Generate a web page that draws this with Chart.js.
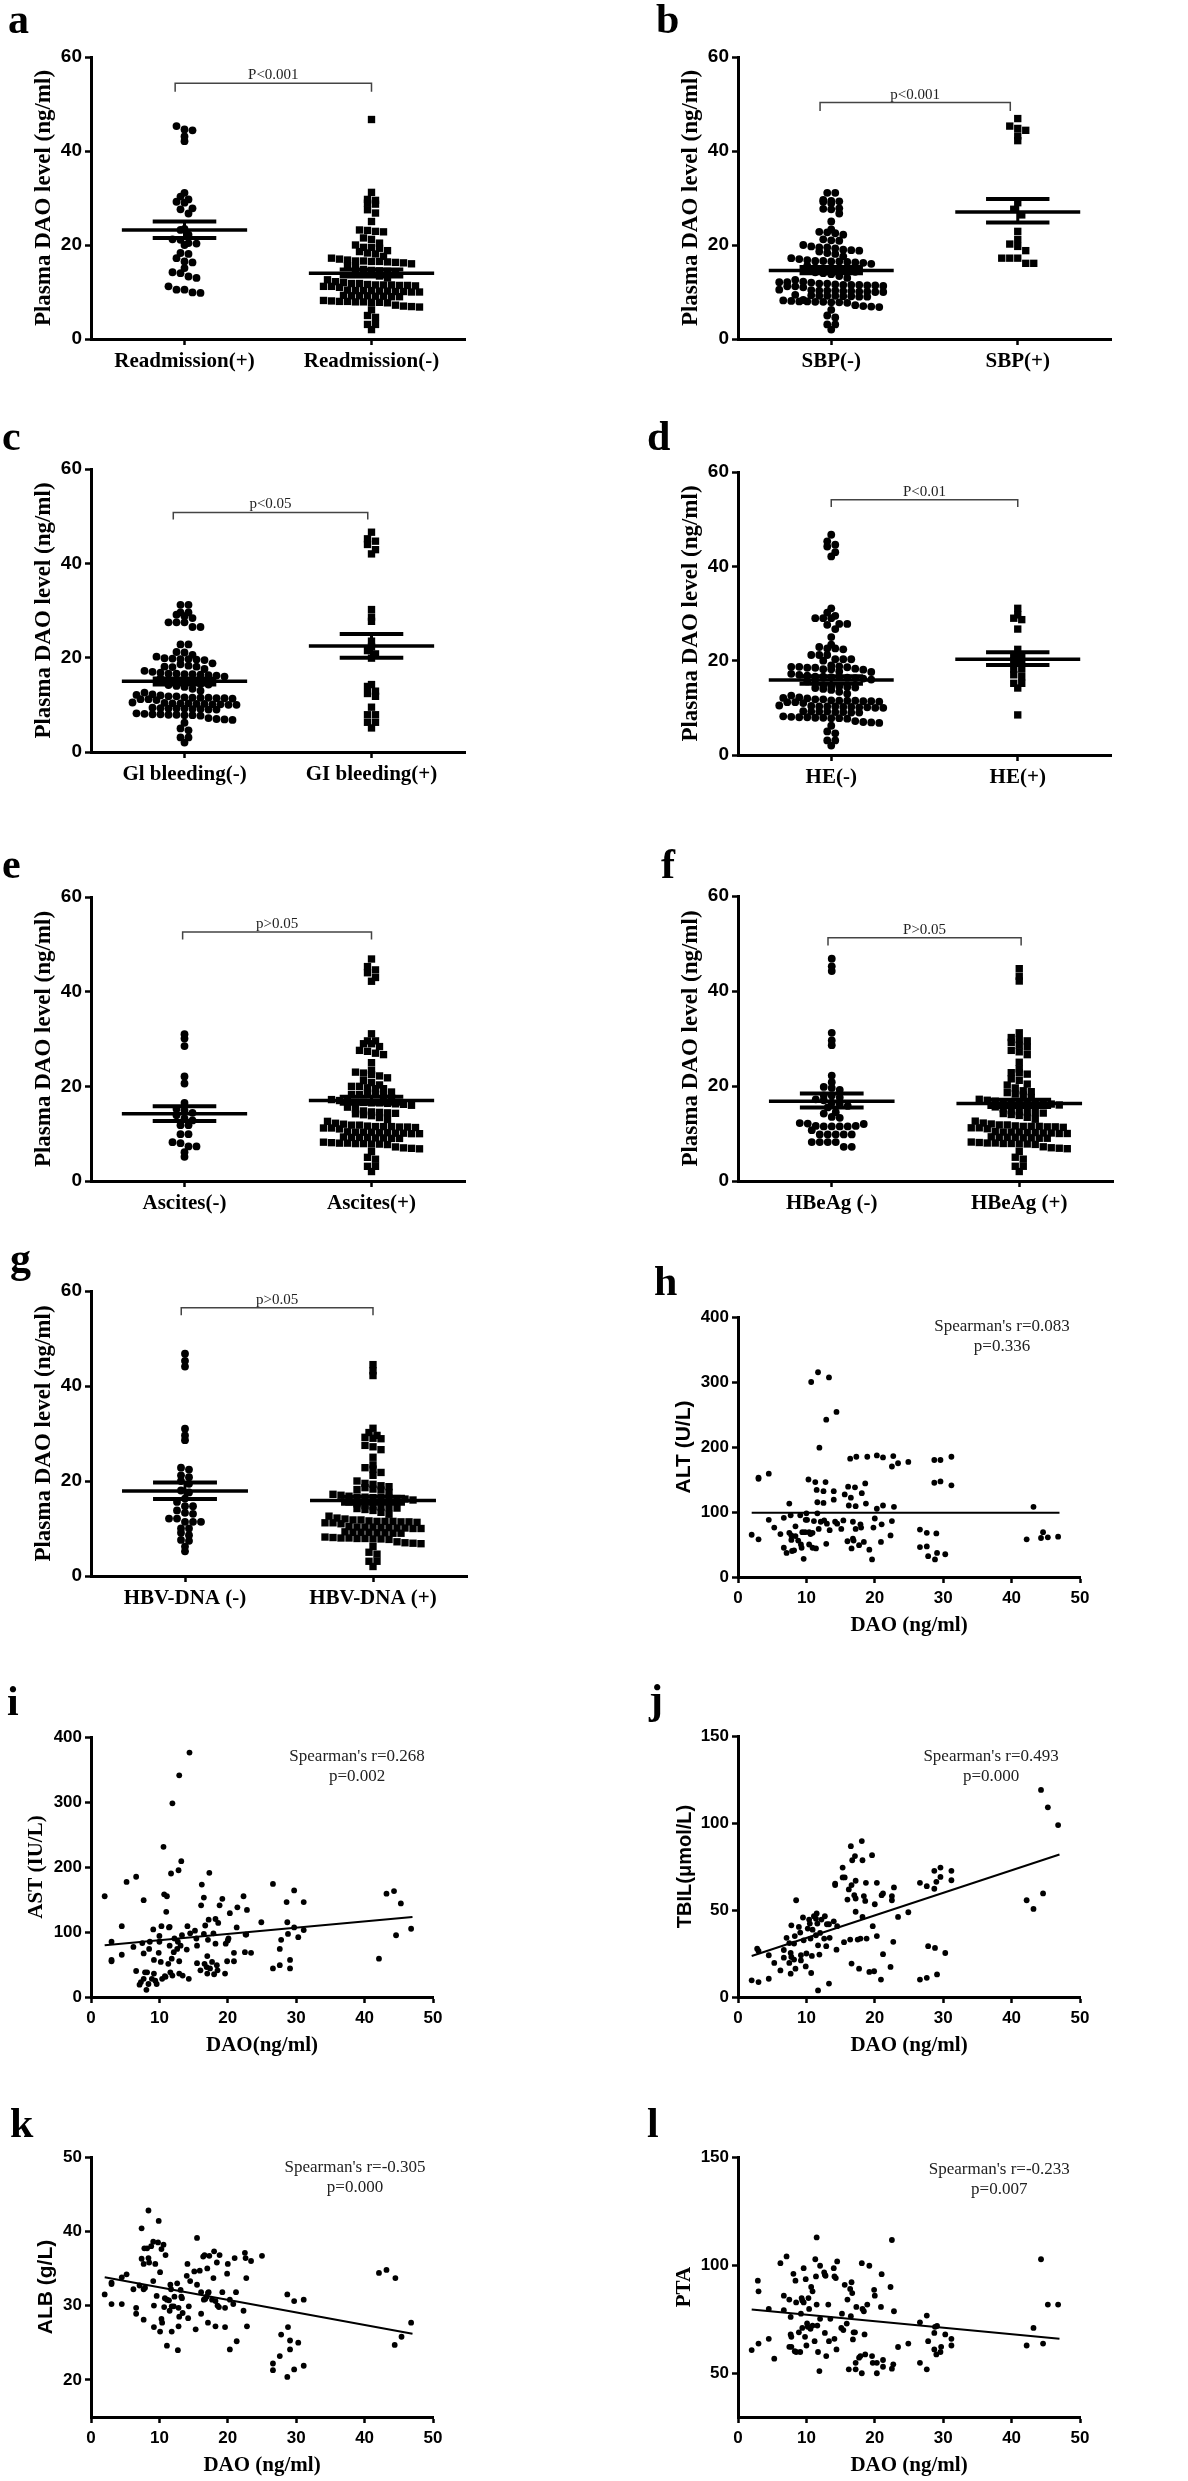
<!DOCTYPE html>
<html>
<head>
<meta charset="utf-8">
<script src="https://cdn.jsdelivr.net/npm/chart.js@4.4.0/dist/chart.umd.min.js"></script>
<style>
body { margin: 0; background: #fff; width: 1188px; height: 2481px; position: relative; overflow: hidden; }
canvas { position: absolute; }
.tag { position: absolute; font: bold 42px "Liberation Serif"; line-height: 42px; color: #000; }
</style>
</head>
<body>
<script>
// ---- group panels (a-g): DAO values per group ----
var bulkDao = [18.8, 18.6, 18.3, 18.1, 17.6, 17.2, 17.0, 16.8, 16.6, 16.6, 16.5, 16.5, 16.4, 16.3, 16.2, 16.0,
  15.6, 15.2, 14.8, 14.6, 14.5, 14.4, 14.3, 14.2, 14.0, 13.8, 13.4, 13.0, 12.6, 12.2, 12.0, 11.8, 11.8, 11.6,
  11.5, 11.5, 11.5, 11.4, 11.4, 11.3, 11.2, 11.2, 11.0, 10.4, 10.3, 10.3, 10.3, 10.2, 10.2, 10.1, 10.1, 10.0,
  10.0, 9.3, 9.2, 9.2, 9.2, 9.1, 9.1, 9.0, 9.0, 8.2, 8.1, 8.0, 8.0, 7.9, 7.9, 7.8, 7.8, 7.7, 7.2, 7.0, 6.9,
  6.8, 6.2, 5.0, 4.6, 3.1, 3.1, 2.0];

var readmissionPos = [45.3, 44.6, 44.4, 43.1, 42.1, 31.1, 30.3, 29.7, 29.2, 29.0, 27.8, 27.6, 26.7, 23.4, 23.2,
  22.2, 21.2, 21.1, 20.4, 20.3, 20.0, 18.3, 18.1, 17.2, 16.5, 16.3, 15.1, 14.2, 14.0, 13.3, 13.0, 11.2, 10.5,
  10.5, 9.9, 9.8];
var readmissionNegHigh = [46.7, 31.2, 29.7, 29.5, 28.9, 28.7, 27.5, 26.8, 25.0, 23.2, 23.1, 22.9, 22.8, 21.5,
  21.2, 20.4, 20.0, 19.5, 19.5, 19.3];

var sbpNegHigh = [31.1, 31.1, 29.6, 29.4, 29.3, 29.2, 28.9, 27.8, 27.7, 27.6, 26.7, 25.0, 23.3, 22.8, 22.7, 22.5,
  22.2, 21.2, 21.0, 20.9, 20.0, 19.7, 19.5, 19.5, 19.3, 19.0, 18.9, 12.1, 12.1, 10.5, 9.4, 8.3];
var sbpPos = [46.9, 45.3, 44.8, 44.4, 43.2, 42.2, 29.0, 27.6, 26.4, 22.9, 21.2, 20.2, 19.7, 18.8, 17.2, 17.2,
  17.2, 16.1, 16.1];

var giNegHigh = [31.2, 31.2, 29.6, 29.6, 29.1, 28.8, 28.4, 27.5, 27.5, 27.5, 26.5, 26.5, 22.8, 22.8, 21.2, 21.1,
  20.6, 20.2, 19.9, 19.8, 19.7, 19.7, 19.6, 19.5, 18.1, 18.0, 12.1, 10.5, 9.4];
var giPos = [46.6, 45.2, 44.7, 44.0, 42.9, 42.0, 30.2, 28.6, 27.7, 23.5, 22.3, 21.5, 20.8, 19.9, 14.3, 13.9,
  12.9, 12.4, 11.8, 9.5, 7.9, 7.9, 6.3, 6.3, 5.1];

var heNegHigh = [46.7, 45.3, 44.6, 44.2, 43.0, 42.1, 31.1, 30.2, 29.5, 29.0, 29.0, 29.0, 27.8, 27.8, 27.6, 26.7,
  25.0, 23.4, 22.9, 22.6, 22.6, 22.4, 21.2, 21.2, 21.2, 20.3, 20.3, 20.3, 20.0, 19.0, 18.7, 18.7, 18.5, 18.5,
  18.2, 18.2, 17.7, 12.1, 10.5];
var hePos = [31.1, 29.7, 29.0, 28.7, 26.7, 22.4, 21.2, 21.2, 20.0, 19.8, 18.2, 18.2, 17.0, 16.6, 15.2, 15.2,
  14.2, 8.5];

var ascitesNeg = [31.0, 30.1, 28.5, 22.1, 20.6, 16.5, 15.2, 14.9, 14.4, 13.9, 13.2, 12.8, 11.8, 11.8, 9.9, 9.9,
  8.2, 8.0, 7.3, 7.3, 6.1, 5.1];
var ascitesPosHigh = [46.9, 45.3, 44.6, 44.0, 43.0, 42.2, 31.1, 29.6, 29.6, 29.0, 29.0, 28.4, 27.6, 27.4, 27.0,
  26.7, 25.0, 23.4, 23.0, 22.8, 22.5, 22.2, 21.8, 21.2, 20.8, 20.3, 20.0, 20.0, 19.7, 19.5, 19.5, 18.3, 18.3];

var hbeagNeg = [46.8, 45.2, 44.2, 31.2, 29.6, 28.6, 22.2, 20.8, 19.8, 19.6, 19.2, 18.0, 18.0, 17.6, 17.2, 17.0,
  16.5, 16.2, 15.8, 15.5, 14.5, 14.2, 13.5, 13.3, 12.2, 12.1, 11.6, 11.5, 11.5, 11.5, 11.5, 11.6, 12.0, 10.7,
  9.8, 9.8, 9.8, 9.8, 9.8, 8.2, 8.2, 8.2, 8.2, 7.2, 7.2];
var hbeagPosHigh = [44.7, 43.1, 42.1, 31.2, 30.2, 29.8, 29.5, 29.2, 28.6, 28.2, 27.5, 27.2, 26.6, 25.0, 23.6,
  22.8, 22.8, 22.5, 21.5, 21.2, 20.4, 20.2, 19.6, 19.0];

var hbvNeg = [46.8, 45.3, 44.1, 31.0, 29.6, 28.6, 22.8, 22.4, 21.2, 20.8, 20.0, 19.4, 18.0, 17.6, 16.3, 15.6,
  14.7, 14.7, 13.8, 13.3, 13.1, 12.1, 12.1, 11.4, 11.4, 11.4, 10.0, 10.0, 9.1, 8.6, 7.6, 7.4, 6.2, 5.2];
var hbvPosHigh = [44.5, 43.2, 42.2, 31.1, 30.2, 29.6, 29.2, 29.0, 28.9, 27.5, 27.2, 26.6, 25.0, 23.4, 22.8, 22.5,
  21.8, 21.2, 20.0, 19.5, 19.3, 19.0, 18.2];

// mean and SEM: [left group, right group]
var meanA = [23.2, 14.0], semLowA = [21.5, 13.3], semHighA = [25.0, 14.8];
var meanB = [14.6, 27.0], semLowB = [14.0, 24.8], semHighB = [15.3, 29.8];
var meanC = [15.0, 22.5], semLowC = [14.3, 20.0], semHighC = [15.6, 25.0];
var meanD = [15.9, 20.3], semLowD = [15.1, 19.1], semHighD = [16.7, 21.8];
var meanE = [14.2, 17.0], semLowE = [12.7, 16.3], semHighE = [15.8, 17.8];
var meanF = [16.8, 16.3], semLowF = [15.5, 15.6], semHighF = [18.4, 17.1];
var meanG = [17.9, 15.9], semLowG = [16.2, 15.2], semHighG = [19.7, 16.7];

// ---- correlation panels (h-l): [DAO, value] ----
var altPoints = [[2.0,65],[3.0,58],[3.0,151],[3.0,153],[4.5,159],[4.5,88],[5.3,76],[6.2,66],[6.7,91],[6.7,45],
  [7.1,37],[7.5,113],[7.5,68],[7.7,95],[7.8,57],[7.8,64],[7.9,40],[8.2,41],[8.4,63],[8.4,78],[8.8,56],[9.1,95],
  [9.2,50],[9.3,45],[9.4,69],[9.6,28],[9.8,69],[9.9,88],[10.1,88],[10.0,98],[10.3,150],[10.4,69],[10.6,66],
  [10.9,68],[10.4,50],[10.7,300],[10.9,45],[11.1,86],[11.3,146],[11.4,44],[11.5,134],[11.6,115],[11.6,98],
  [11.7,315],[11.8,74],[11.9,199],[12.1,85],[12.5,114],[12.5,132],[12.6,87],[12.8,146],[12.9,242],[12.9,51],
  [13.0,82],[13.3,307],[13.4,72],[14.0,132],[14.0,119],[14.2,85],[14.4,254],[14.5,82],[15.1,74],[15.4,87],
  [15.6,127],[16.0,55],[16.1,139],[16.2,110],[16.4,182],[16.5,122],[16.6,44],[16.8,85],[16.8,59],[16.9,56],
  [17.1,138],[17.2,109],[17.2,74],[17.3,185],[17.7,49],[17.9,81],[18.0,76],[18.1,129],[18.4,54],[18.6,144],
  [18.7,113],[18.9,185],[19.2,42],[19.6,27],[19.8,76],[20.0,90],[20.3,187],[20.3,105],[20.9,54],[21.0,81],
  [21.2,110],[21.2,184],[22.3,64],[22.5,86],[22.5,170],[22.7,186],[22.8,108],[23.4,175],[24.9,177],[26.6,73],
  [26.6,46],[27.6,68],[27.6,47],[27.8,32],[28.7,180],[28.7,145],[28.8,27],[29.0,67],[29.1,37],[29.6,180],
  [29.6,147],[30.3,35],[31.2,185],[31.2,141],[42.2,58],[43.2,108],[44.3,60],[44.6,69],[45.3,61],[46.8,62]];

var astPoints = [[2.0,155],[3.0,85],[3.0,57],[3.0,55],[4.5,109],[4.5,65],[5.2,177],[6.2,77],[6.6,185],[6.6,40],
  [7.1,19],[7.3,23],[7.5,83],[7.7,149],[7.7,67],[7.7,28],[7.9,38],[8.1,11],[8.2,38],[8.4,20],[8.5,74],[8.6,85],
  [8.9,28],[9.1,104],[9.2,57],[9.2,36],[9.4,25],[9.6,20],[9.9,68],[10.0,94],[10.0,85],[10.2,54],[10.3,109],
  [10.4,28],[10.6,231],[10.7,158],[10.8,32],[10.9,31],[11.0,131],[11.1,155],[11.3,51],[11.4,107],[11.5,108],
  [11.5,79],[11.6,38],[11.7,190],[11.8,59],[11.9,298],[11.9,33],[12.1,69],[12.2,90],[12.6,74],[12.7,85],
  [12.8,195],[12.9,55],[12.9,341],[12.9,36],[13.1,79],[13.2,209],[13.3,95],[13.4,33],[14.0,73],[14.1,109],
  [14.3,28],[14.4,376],[14.5,98],[15.2,102],[15.4,90],[15.5,79],[15.5,52],[16.0,41],[16.1,141],[16.2,173],
  [16.5,153],[16.5,97],[16.6,51],[16.7,110],[16.9,46],[17.0,36],[17.0,63],[17.1,88],[17.2,119],[17.3,191],
  [17.4,44],[17.7,54],[17.9,98],[18.0,35],[18.2,82],[18.2,120],[18.4,49],[18.5,41],[18.6,114],[18.8,141],
  [19.2,151],[19.6,36],[19.7,82],[19.9,55],[20.0,87],[20.1,90],[20.3,129],[20.9,68],[20.9,55],[21.3,107],
  [21.4,138],[22.3,155],[22.5,69],[22.6,96],[22.7,96],[22.8,134],[23.4,68],[24.9,115],[26.6,44],[26.6,174],
  [27.6,74],[27.6,49],[27.8,88],[28.6,146],[28.7,115],[28.8,97],[29.1,57],[29.1,44],[29.7,164],[29.7,107],
  [30.3,92],[31.1,103],[31.1,146],[42.1,59],[43.2,159],[44.3,163],[44.6,95],[45.3,144],[46.8,105]];

var tbilPoints = [[2.0,9.6],[3.0,8.6],[2.8,27.8],[3.0,26.5],[4.5,24],[4.5,10.5],[5.3,19.6],[6.2,15.3],[6.7,27],
  [6.7,22.6],[7.1,34],[7.5,19.6],[7.5,31],[7.7,25.3],[7.8,41.2],[7.7,13.4],[7.8,23],[8.2,30.7],[8.3,35],
  [8.5,55.6],[8.4,16.3],[8.2,21.5],[8.9,40.3],[9.1,37],[9.2,24],[9.2,21],[9.5,45.7],[9.6,32.6],[9.9,17.6],
  [10.0,25],[10.2,39.3],[10.4,44.5],[10.5,42.2],[10.6,33.6],[10.7,13.8],[10.8,23.6],[10.9,38.7],[11.1,46.4],
  [11.4,45],[11.4,35.5],[11.5,48],[11.6,42.2],[11.7,3.8],[11.7,29.7],[11.9,24.4],[12.0,36.8],[12.2,44.5],
  [12.6,33.6],[12.7,46.4],[12.9,29.2],[13.0,41.8],[13.3,7.7],[13.4,34],[13.3,41.8],[14.0,43.5],[14.2,65.2],
  [14.2,64.3],[14.4,27.2],[14.5,40.7],[15.3,74.4],[15.3,68.7],[15.6,68.7],[15.5,31.5],[16.0,56],[16.2,61.8],
  [16.4,33],[16.5,86.7],[16.6,19.2],[16.6,64.3],[16.7,78.6],[17.0,58.5],[17.1,81],[17.2,66.8],[17.2,56.6],
  [17.2,49],[17.5,33],[17.7,16.3],[17.9,33.6],[18.1,89.6],[18.2,78.6],[18.2,46],[18.4,58],[18.6,55.2],
  [18.7,65.6],[18.8,33.6],[19.2,14.4],[19.6,81.5],[19.7,40.7],[19.9,14.8],[20.0,53.3],[20.3,65.6],[20.3,35],
  [20.9,10],[21.0,58.5],[21.2,59.5],[21.2,24.6],[22.3,17.3],[22.5,58],[22.5,55.6],[22.8,63],[22.7,31.7],
  [23.4,46],[24.9,48.7],[26.6,65.6],[26.6,10],[27.6,63.7],[27.6,11],[27.8,29.2],[28.7,72.5],[28.7,62.2],
  [28.8,28.2],[29.0,66.2],[29.1,13],[29.6,74.4],[29.6,69],[30.3,25.3],[31.2,72.5],[31.2,67.1],[42.2,55.6],
  [43.2,50.6],[44.3,119],[44.6,59.5],[45.3,109],[46.8,98.8]];

var albPoints = [[2.0,31.5],[3.0,32.9],[3.0,33.1],[3.0,30.2],[4.5,33.8],[4.5,30.2],[5.2,34.2],[6.2,32.2],
  [6.6,29.7],[6.6,28.9],[7.1,32.7],[7.4,40.4],[7.4,36.3],[7.7,35.6],[7.7,28.1],[7.8,37.7],[8.2,37.7],[7.7,32.2],
  [7.9,32.4],[8.4,42.8],[8.4,36.4],[8.5,35.8],[8.8,38.0],[9.1,38.6],[9.1,33.3],[9.2,30.0],[9.2,27.1],[9.4,35.6],
  [9.6,31.3],[9.8,38.5],[9.9,41.4],[10.1,34.5],[10.1,26.5],[10.3,37.6],[10.3,28.2],[10.4,27.7],[10.6,38.2],
  [10.7,29.8],[10.8,31.0],[10.9,36.8],[11.1,24.6],[11.1,30.8],[11.4,30.7],[11.5,29.3],[11.6,32.8],[11.7,32.2],
  [11.8,29.9],[11.8,26.5],[12.1,29.9],[12.2,31.2],[12.6,33.0],[12.7,24.0],[12.8,29.7],[12.8,27.2],[12.9,28.5],
  [13.1,32.1],[13.2,31.2],[13.3,31.0],[13.4,29.0],[14.0,34.0],[14.1,35.6],[14.2,28.3],[14.3,29.9],[14.5,33.3],
  [15.1,34.6],[15.3,26.8],[15.5,39.1],[15.5,32.8],[15.9,34.7],[16.1,31.8],[16.1,28.9],[16.4,36.6],[16.5,30.8],
  [16.6,36.8],[16.7,30.9],[16.9,31.2],[17.0,35.0],[17.1,31.7],[17.1,27.7],[17.2,31.8],[17.3,36.7],[17.7,30.8],
  [17.9,33.7],[18.0,37.3],[18.2,27.2],[18.2,30.6],[18.4,35.8],[18.5,30.0],[18.7,29.8],[18.8,36.8],[19.2,31.8],
  [19.6,29.7],[19.6,27.1],[19.9,34.3],[20.0,35.6],[20.3,30.8],[20.3,24.1],[20.8,30.2],[21.0,36.4],[21.2,31.8],
  [21.3,25.2],[22.3,29.3],[22.5,37.1],[22.6,36.4],[22.7,33.7],[22.8,27.2],[23.4,36.0],[25.0,36.7],[26.6,22.2],
  [26.6,21.3],[27.6,23.2],[27.8,26.1],[28.7,31.5],[28.8,27.1],[28.7,20.4],[29.1,25.3],[29.1,24.1],[29.7,30.6],
  [29.7,21.4],[30.3,25.0],[31.1,30.8],[31.1,21.9],[42.1,34.4],[43.2,34.8],[44.5,33.7],[44.4,24.7],[45.4,25.8],
  [46.8,27.7]];

var ptaPoints = [[2.0,60.9],[2.9,92.9],[3.0,88.0],[3.0,63.9],[4.5,79.9],[4.5,66.1],[5.3,56.9],[6.2,101.0],
  [6.7,86.0],[6.7,79.3],[7.1,104.1],[7.5,84.2],[7.5,62.4],[7.7,76.2],[7.7,68.1],[7.8,67.0],[7.8,62.4],[8.1,96.1],
  [8.3,60.4],[8.5,60.0],[8.4,92.9],[8.5,82.9],[8.9,69.1],[9.1,60.0],[9.2,77.7],[9.3,84.9],[9.4,83.8],[9.4,71.1],
  [9.6,98.7],[9.6,82.9],[9.8,67.0],[9.9,93.6],[10.0,63.0],[10.1,73.2],[10.2,71.6],[10.3,84.9],[10.4,79.9],
  [10.6,70.7],[10.7,90.0],[10.9,88.0],[10.9,72.2],[11.2,65.0],[11.3,102.8],[11.4,94.9],[11.5,112.9],[11.5,81.9],
  [11.6,72.2],[11.7,60.0],[11.9,51.2],[12.0,99.8],[12.0,75.3],[12.6,96.7],[12.8,95.2],[12.7,95.6],[12.7,68.8],
  [12.9,58.1],[13.2,81.9],[13.3,65.0],[13.5,75.3],[14.0,98.7],[14.1,94.9],[14.3,94.1],[14.1,66.1],[14.4,61.2],
  [14.5,101.8],[15.1,71.1],[15.2,77.7],[15.4,70.1],[15.6,91.0],[15.9,73.1],[16.0,84.2],[16.2,52.0],[16.4,89.1],
  [16.5,76.5],[16.6,92.2],[16.7,87.2],[16.8,65.8],[16.9,69.1],[17.1,69.1],[17.2,55.0],[17.2,52.0],[17.3,80.8],
  [17.7,57.4],[17.9,58.1],[18.1,101.0],[18.2,79.9],[18.1,50.2],[18.4,78.8],[18.5,68.1],[18.6,58.9],[18.9,81.9],
  [19.2,99.8],[19.6,58.1],[19.7,55.0],[19.9,88.7],[20.0,86.0],[20.3,55.0],[20.3,50.2],[20.9,80.8],[21.0,95.9],
  [21.2,56.3],[21.2,53.2],[22.3,90.0],[22.5,52.3],[22.5,111.7],[22.7,54.3],[22.8,78.8],[23.4,62.3],[24.9,63.9],
  [26.6,55.0],[26.6,73.7],[27.6,76.8],[27.6,52.0],[27.8,65.0],[28.7,68.8],[28.7,61.2],[28.8,71.6],[29.0,58.9],
  [29.1,72.0],[29.6,60.0],[29.7,62.4],[30.3,68.1],[31.2,66.1],[31.2,63.0],[42.2,63.0],[43.2,71.1],[44.3,102.8],
  [44.6,63.9],[45.3,81.9],[46.8,81.9]];

// fitted lines, end points
var fitAlt = [[2, 99], [47, 99]];
var fitAst = [[2, 79.5], [47, 123]];
var fitTbil = [[2, 23.6], [47, 81.9]];
var fitAlb = [[2, 33.8], [47, 26.2]];
var fitPta = [[2, 79.6], [47, 66.1]];

var SERIF = '"Liberation Serif", "Times New Roman", serif';
var SANS = '"Liberation Sans", Arial, sans-serif';

function tag(letter, left, top) {
  var d = document.createElement('div');
  d.className = 'tag';
  d.textContent = letter;
  d.style.left = left + 'px';
  d.style.top = top + 'px';
  document.body.appendChild(d);
}

function makeCanvas(box) {
  // box = [plotLeft, plotTop, plotRight, plotBottom]
  var c = document.createElement('canvas');
  var left = box[0] - 90, top = box[1] - 40;
  var w = box[2] + 30 - left, h = box[3] + 75 - top;
  c.width = w; c.height = h;
  c.style.left = left + 'px'; c.style.top = top + 'px';
  c.style.width = w + 'px'; c.style.height = h + 'px';
  document.body.appendChild(c);
  return c;
}

// horizontal rows like a dot plot: values close together share a row
function swarm(values, center, unitPx) {
  var bins = {};
  values.forEach(function(v) {
    var k = Math.round(v / 1.5);
    (bins[k] = bins[k] || []).push(v);
  });
  var pts = [];
  Object.keys(bins).forEach(function(k) {
    var row = bins[k];
    row.forEach(function(v, i) {
      pts.push({x: center + (i - (row.length - 1) / 2) * 8 / unitPx, y: v});
    });
  });
  return pts;
}

function seg(x1, y1, x2, y2, w) {
  return {data: [{x: x1, y: y1}, {x: x2, y: y2}], showLine: true, pointRadius: 0,
    borderColor: '#000', borderWidth: w, order: 0};
}

var notePlugin = {
  id: 'note',
  afterDatasetsDraw: function(chart, args, o) {
    var ctx = chart.ctx, xs = chart.scales.x, ys = chart.scales.y;
    ctx.save();
    if (o.bracket) {
      var x1 = xs.getPixelForValue(o.bracket[0]), x2 = xs.getPixelForValue(o.bracket[1]);
      var y = ys.getPixelForValue(o.bracket[2]), yd = ys.getPixelForValue(o.bracket[3]);
      ctx.strokeStyle = '#444'; ctx.lineWidth = 1.5;
      ctx.beginPath();
      ctx.moveTo(x1, yd); ctx.lineTo(x1, y); ctx.lineTo(x2, y); ctx.lineTo(x2, yd);
      ctx.stroke();
      ctx.fillStyle = '#222'; ctx.font = '15px ' + SERIF;
      ctx.textAlign = 'center'; ctx.textBaseline = 'alphabetic';
      ctx.fillText(o.text, (x1 + x2) / 2, y - 4);
    }
    if (o.lines) {
      var cx = xs.getPixelForValue(o.at[0]);
      ctx.fillStyle = '#222'; ctx.font = '17px ' + SERIF;
      ctx.textAlign = 'center'; ctx.textBaseline = 'middle';
      o.lines.forEach(function(t, i) {
        ctx.fillText(t, cx, chart.chartArea.top + o.at[1] + i * 20);
      });
    }
    ctx.restore();
  }
};

function axisStyle() {
  return {
    grid: {drawOnChartArea: false, tickLength: 6, tickColor: '#000', tickWidth: 2.5},
    border: {display: true, color: '#000', width: 3}
  };
}

function groupPanel(p) {
  var cv = makeCanvas(p.box);
  var unitPx = (p.box[2] - p.box[0]) / 2;
  var ds = [
    {data: swarm(p.left, 1, unitPx), pointStyle: 'circle', pointRadius: 3.9, backgroundColor: '#000',
      borderWidth: 0, order: 1},
    {data: swarm(p.right, 2, unitPx), pointStyle: 'rect', pointRadius: 5.2, backgroundColor: '#000',
      borderWidth: 0, order: 1}
  ];
  for (var g = 0; g < 2; g++) {
    var cx = g + 1;
    ds.push(seg(cx - 0.335, p.mean[g], cx + 0.335, p.mean[g], 3.5));
    ds.push(seg(cx - 0.17, p.lo[g], cx + 0.17, p.lo[g], 4));
    ds.push(seg(cx - 0.17, p.hi[g], cx + 0.17, p.hi[g], 4));
    ds.push(seg(cx, p.lo[g], cx, p.hi[g], 3));
  }
  var xa = axisStyle(), ya = axisStyle();
  xa.type = 'linear'; xa.min = 0.5; xa.max = 2.5;
  xa.afterBuildTicks = function(s) { s.ticks = [{value: 1}, {value: 2}]; };
  xa.afterFit = function(s) { s.height = 75; };
  xa.ticks = {color: '#000', padding: 4, maxRotation: 0, minRotation: 0, autoSkip: false,
    font: {family: SERIF, weight: 'bold', size: 21},
    callback: function(v) { return p.labels[Math.round(v) - 1]; }};
  ya.min = 0; ya.max = 60;
  ya.afterFit = function(s) { s.width = 90; };
  ya.ticks = {stepSize: 20, color: '#000', padding: 3, font: {family: SANS, weight: 'bold', size: 19}};
  ya.title = {display: true, text: 'Plasma DAO level (ng/ml)', color: '#000', padding: {top: 29},
    font: {family: SERIF, weight: 'bold', size: 23}};
  new Chart(cv, {
    type: 'scatter',
    data: {datasets: ds},
    options: {
      responsive: false, animation: false,
      layout: {padding: {top: 40, right: 30}},
      plugins: {legend: {display: false}, tooltip: {enabled: false},
        note: {bracket: p.bracket, text: p.ptext}},
      scales: {x: xa, y: ya}
    },
    plugins: [notePlugin]
  });
  tag(p.letter, p.tag[0], p.tag[1]);
}

function corrPanel(p) {
  var cv = makeCanvas(p.box);
  var pts = p.points.map(function(d) { return {x: d[0], y: d[1]}; });
  var ds = [
    {data: pts, pointStyle: 'circle', pointRadius: 2.9, backgroundColor: '#000', borderWidth: 0, order: 1},
    seg(p.fit[0][0], p.fit[0][1], p.fit[1][0], p.fit[1][1], 2)
  ];
  var xa = axisStyle(), ya = axisStyle();
  xa.min = 0; xa.max = 50;
  xa.afterFit = function(s) { s.height = 75; };
  xa.ticks = {stepSize: 10, color: '#000', padding: 5, maxRotation: 0,
    font: {family: SANS, weight: 'bold', size: 17}};
  xa.title = {display: true, text: p.xTitle, color: '#000', padding: {top: 0, bottom: 14},
    font: {family: SERIF, weight: 'bold', size: 21}};
  ya.min = p.yMin; ya.max = p.yMax;
  if (p.yTicks) {
    ya.afterBuildTicks = function(s) { s.ticks = p.yTicks.map(function(v) { return {value: v}; }); };
  }
  ya.afterFit = function(s) { s.width = 90; };
  ya.ticks = {stepSize: p.yStep, color: '#000', padding: 3, font: {family: SANS, weight: 'bold', size: 17}};
  ya.title = {display: true, text: p.yTitle, color: '#000', padding: {top: p.yPad},
    font: {family: p.yFont, weight: 'bold', size: p.ySize}};
  new Chart(cv, {
    type: 'scatter',
    data: {datasets: ds},
    options: {
      responsive: false, animation: false,
      layout: {padding: {top: 40, right: 30}},
      plugins: {legend: {display: false}, tooltip: {enabled: false},
        note: {lines: p.note, at: p.noteAt}},
      scales: {x: xa, y: ya}
    },
    plugins: [notePlugin]
  });
  tag(p.letter, p.tag[0], p.tag[1]);
}

groupPanel({letter: 'a', tag: [8, -2], box: [91, 57, 465, 339],
  labels: ['Readmission(+)', 'Readmission(-)'],
  left: readmissionPos, right: readmissionNegHigh.concat(bulkDao),
  mean: meanA, lo: semLowA, hi: semHighA, bracket: [0.95, 2, 54.4, 52.6], ptext: 'P<0.001'});
groupPanel({letter: 'b', tag: [656, -2], box: [738, 57, 1111, 339],
  labels: ['SBP(-)', 'SBP(+)'],
  left: sbpNegHigh.concat(bulkDao), right: sbpPos,
  mean: meanB, lo: semLowB, hi: semHighB, bracket: [0.94, 1.96, 50.3, 48.5], ptext: 'p<0.001'});
groupPanel({letter: 'c', tag: [2, 415], box: [91, 469, 465, 752],
  labels: ['Gl bleeding(-)', 'GI bleeding(+)'],
  left: giNegHigh.concat(bulkDao), right: giPos,
  mean: meanC, lo: semLowC, hi: semHighC, bracket: [0.94, 1.98, 50.8, 49.3], ptext: 'p<0.05'});
groupPanel({letter: 'd', tag: [647, 415], box: [738, 472, 1111, 755],
  labels: ['HE(-)', 'HE(+)'],
  left: heNegHigh.concat(bulkDao), right: hePos,
  mean: meanD, lo: semLowD, hi: semHighD, bracket: [1, 2, 54.1, 52.6], ptext: 'P<0.01'});
groupPanel({letter: 'e', tag: [2, 843], box: [91, 897, 465, 1181],
  labels: ['Ascites(-)', 'Ascites(+)'],
  left: ascitesNeg, right: ascitesPosHigh.concat(bulkDao),
  mean: meanE, lo: semLowE, hi: semHighE, bracket: [0.99, 2, 52.6, 51.0], ptext: 'p>0.05'});
groupPanel({letter: 'f', tag: [661, 843], box: [738, 896, 1113, 1181],
  labels: ['HBeAg (-)', 'HBeAg (+)'],
  left: hbeagNeg, right: hbeagPosHigh.concat(bulkDao),
  mean: meanF, lo: semLowF, hi: semHighF, bracket: [0.98, 2.01, 51.2, 49.6], ptext: 'P>0.05'});
groupPanel({letter: 'g', tag: [10, 1237], box: [91, 1291, 467, 1576],
  labels: ['HBV-DNA (-)', 'HBV-DNA (+)'],
  left: hbvNeg, right: hbvPosHigh.concat(bulkDao),
  mean: meanG, lo: semLowG, hi: semHighG, bracket: [0.98, 2, 56.5, 54.9], ptext: 'p>0.05'});

corrPanel({letter: 'h', tag: [654, 1260], box: [738, 1317, 1080, 1577], points: altPoints, fit: fitAlt,
  yMin: 0, yMax: 400, yStep: 100, yTitle: 'ALT (U/L)', yFont: SANS, ySize: 21, yPad: 24,
  xTitle: 'DAO (ng/ml)', note: ["Spearman's r=0.083", 'p=0.336'], noteAt: [38.6, 10]});
corrPanel({letter: 'i', tag: [7, 1680], box: [91, 1737, 433, 1997], points: astPoints, fit: fitAst,
  yMin: 0, yMax: 400, yStep: 100, yTitle: 'AST (IU/L)', yFont: SERIF, ySize: 21, yPad: 23,
  xTitle: 'DAO(ng/ml)', note: ["Spearman's r=0.268", 'p=0.002'], noteAt: [38.9, 20]});
corrPanel({letter: 'j', tag: [649, 1678], box: [738, 1736, 1080, 1997], points: tbilPoints, fit: fitTbil,
  yMin: 0, yMax: 150, yStep: 50, yTitle: 'TBIL(\u03bcmol/L)', yFont: SANS, ySize: 20, yPad: 25,
  xTitle: 'DAO (ng/ml)', note: ["Spearman's r=0.493", 'p=0.000'], noteAt: [37.0, 21]});
corrPanel({letter: 'k', tag: [10, 2102], box: [91, 2157, 433, 2417], points: albPoints, fit: fitAlb,
  yMin: 15, yMax: 50, yStep: 10, yTicks: [20, 30, 40, 50], yTitle: 'ALB (g/L)', yFont: SANS, ySize: 21, yPad: 33,
  xTitle: 'DAO (ng/ml)', note: ["Spearman's r=-0.305", 'p=0.000'], noteAt: [38.6, 11]});
corrPanel({letter: 'l', tag: [647, 2102], box: [738, 2157, 1080, 2417], points: ptaPoints, fit: fitPta,
  yMin: 30, yMax: 150, yStep: 50, yTicks: [50, 100, 150], yTitle: 'PTA', yFont: SERIF, ySize: 21, yPad: 24,
  xTitle: 'DAO (ng/ml)', note: ["Spearman's r=-0.233", 'p=0.007'], noteAt: [38.2, 13]});
</script>
</body>
</html>
